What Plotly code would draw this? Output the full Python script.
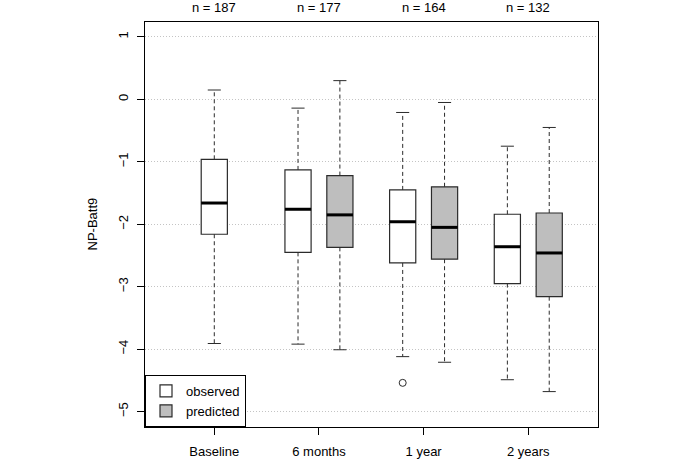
import plotly.graph_objects as go

categories = ["Baseline", "6 months", "1 year", "2 years"]
n_counts = [187, 177, 164, 132]

# observed: all four visits
obs_upper = [0.15, -0.14, -0.21, -0.75]
obs_q3 = [-0.96, -1.13, -1.45, -1.84]
obs_median = [-1.66, -1.76, -1.96, -2.36]
obs_q1 = [-2.16, -2.45, -2.62, -2.95]
obs_lower = [-3.91, -3.92, -4.12, -4.49]

# predicted: follow-up visits only
pred_cats = ["6 months", "1 year", "2 years"]
pred_upper = [0.30, -0.05, -0.45]
pred_q3 = [-1.22, -1.40, -1.82]
pred_median = [-1.85, -2.05, -2.46]
pred_q1 = [-2.37, -2.56, -3.16]
pred_lower = [-4.01, -4.21, -4.68]

outlier_cat = ["1 year"]
outlier_val = [-4.54]

BOX_W = 0.25
OFF = 0.2
CAP = BOX_W / 2
EDGE = "#2b2b2b"

def pos(cat, group):
    i = categories.index(cat)
    if cat == "Baseline":
        return i
    return i - OFF if group == "obs" else i + OFF

obs_x = [pos(c, "obs") for c in categories]
pred_x = [pos(c, "pred") for c in pred_cats]
out_x = [pos(c, "obs") for c in outlier_cat]

def whisker_xy(xs, lo, q1, q3, hi):
    wx, wy, cx, cy = [], [], [], []
    for x, a, b, c, d in zip(xs, lo, q1, q3, hi):
        wx += [x, x, None, x, x, None]
        wy += [c, d, None, b, a, None]
        cx += [x - CAP / 2, x + CAP / 2, None, x - CAP / 2, x + CAP / 2, None]
        cy += [d, d, None, a, a, None]
    return wx, wy, cx, cy

def median_xy(xs, med):
    mx, my = [], []
    for x, m in zip(xs, med):
        mx += [x - BOX_W / 2, x + BOX_W / 2, None]
        my += [m, m, None]
    return mx, my

fig = go.Figure()

for xs, lo, q1, md, q3, hi in [(obs_x, obs_lower, obs_q1, obs_median, obs_q3, obs_upper),
                               (pred_x, pred_lower, pred_q1, pred_median, pred_q3, pred_upper)]:
    wx, wy, cx, cy = whisker_xy(xs, lo, q1, q3, hi)
    fig.add_trace(go.Scatter(x=wx, y=wy, mode="lines", showlegend=False, hoverinfo="skip",
                             line=dict(color=EDGE, width=1, dash="4px,3px")))
    fig.add_trace(go.Scatter(x=cx, y=cy, mode="lines", showlegend=False, hoverinfo="skip",
                             line=dict(color=EDGE, width=1)))

fig.add_trace(go.Box(x=obs_x, q1=obs_q1, median=obs_median, q3=obs_q3,
                     lowerfence=obs_q1, upperfence=obs_q3, width=BOX_W, whiskerwidth=0,
                     name="observed", fillcolor="white", line=dict(color=EDGE, width=1.2)))
fig.add_trace(go.Box(x=pred_x, q1=pred_q1, median=pred_median, q3=pred_q3,
                     lowerfence=pred_q1, upperfence=pred_q3, width=BOX_W, whiskerwidth=0,
                     name="predicted", fillcolor="#bebebe", line=dict(color=EDGE, width=1.2)))

for xs, md in [(obs_x, obs_median), (pred_x, pred_median)]:
    mx, my = median_xy(xs, md)
    fig.add_trace(go.Scatter(x=mx, y=my, mode="lines", showlegend=False, hoverinfo="skip",
                             line=dict(color="black", width=3)))

fig.add_trace(go.Scatter(x=out_x, y=outlier_val, mode="markers", showlegend=False,
                         marker=dict(symbol="circle-open", size=7, color=EDGE, line=dict(width=1))))

for i, n in enumerate(n_counts):
    fig.add_annotation(x=i, y=1, xref="x", yref="paper", yanchor="middle", yshift=15,
                       text=f"n = {n}", showarrow=False, font=dict(size=13, color="black"))

fig.add_annotation(x=0, y=0.5, xref="paper", yref="paper", xanchor="center", xshift=-53,
                   textangle=-90, text="NP-Batt9", showarrow=False,
                   font=dict(size=13, color="black"))

fig.update_xaxes(range=[-0.662, 3.666], tickvals=list(range(len(categories))), ticktext=categories,
                 ticks="outside", ticklen=7, tickcolor="black", ticklabelstandoff=5,
                 automargin=False, showgrid=False, zeroline=False,
                 showline=True, mirror=True, linecolor="black", linewidth=1)
fig.update_yaxes(range=[-5.247, 1.239], tickvals=[-5, -4, -3, -2, -1, 0, 1], tickangle=-90,
                 ticks="outside", ticklen=7, tickcolor="black", ticklabelstandoff=4,
                 automargin=False, showgrid=True, griddash="1px,2px",
                 gridcolor="#c4c4c4", zeroline=False, showline=True, mirror=True,
                 linecolor="black", linewidth=1)

fig.update_layout(
    width=685, height=461,
    margin=dict(l=145, r=87, t=22, b=34),
    paper_bgcolor="white", plot_bgcolor="white",
    font=dict(family="Liberation Sans, Arial, sans-serif", size=13, color="black"),
    legend=dict(x=0, y=0, xanchor="left", yanchor="bottom", bgcolor="white",
                bordercolor="black", borderwidth=1, itemwidth=30, font=dict(size=13)),
    showlegend=True,
)

# page body has an 8px default margin; drop it so the figure sits at the window corner
fig.write_html("out.html", config={"displayModeBar": False},
               post_script="document.body.style.margin='0';")
